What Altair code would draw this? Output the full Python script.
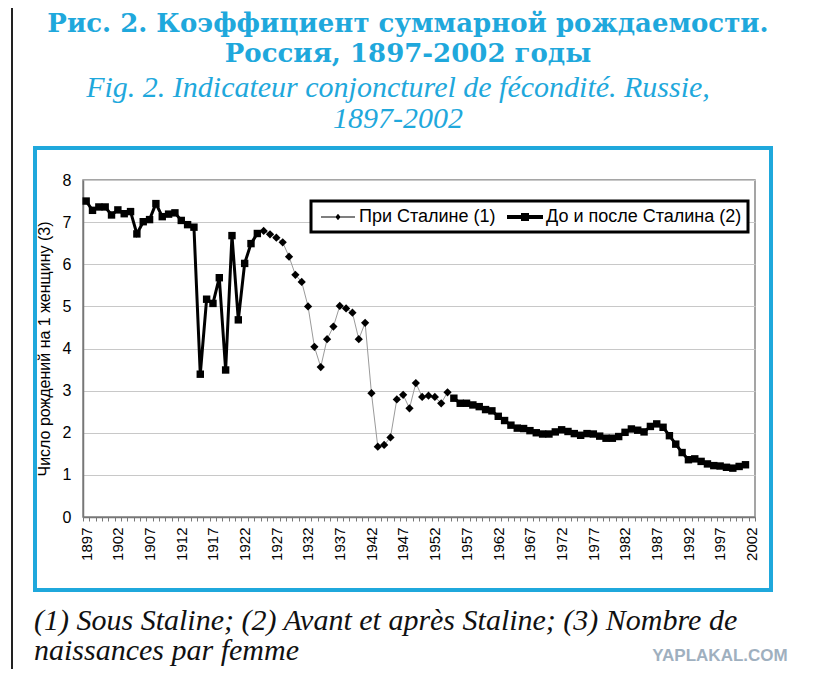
import altair as alt
import pandas as pd

CYAN = "#1fa8dc"

# Total fertility rate, Russia
PRE_START = 1897
PRE_TFR = [
    7.50, 7.28, 7.36, 7.36, 7.17, 7.29, 7.20, 7.25, 6.72, 7.01,
    7.06, 7.44, 7.13, 7.19, 7.22, 7.04, 6.94, 6.88, 3.39, 5.17,
    5.07, 5.68, 3.49, 6.68, 4.68, 6.02, 6.49, 6.73,
]
STALIN_START = 1925
STALIN_TFR = [
    6.79, 6.71, 6.63, 6.52, 6.18, 5.75, 5.58, 5.00, 4.04, 3.56,
    4.22, 4.52, 5.01, 4.95, 4.85, 4.22, 4.61, 2.94, 1.67, 1.71,
    1.89, 2.79, 2.90, 2.58, 3.18, 2.85, 2.88, 2.85, 2.70, 2.96,
]
POST_START = 1955
POST_TFR = [
    2.82, 2.70, 2.70, 2.66, 2.62, 2.55, 2.52, 2.39, 2.29, 2.18,
    2.11, 2.10, 2.05, 2.00, 1.97, 1.97, 2.02, 2.07, 2.03, 1.98,
    1.94, 1.98, 1.97, 1.92, 1.87, 1.87, 1.91, 2.01, 2.09, 2.06,
    2.02, 2.15, 2.21, 2.13, 1.93, 1.73, 1.53, 1.36, 1.38, 1.32,
    1.26, 1.22, 1.21, 1.18, 1.16, 1.20, 1.24,
]

SERIES = ["При Сталине (1)", "До и после Сталина (2)"]
Y_TICKS = [0, 1, 2, 3, 4, 5, 6, 7, 8]
FIRST_YEAR, LAST_YEAR = 1897, 2002

TITLE_RU = ["Рис. 2. Коэффициент суммарной рождаемости.", "Россия, 1897-2002 годы"]
TITLE_FR = ["Fig. 2. Indicateur conjoncturel de fécondité. Russie,", "1897-2002"]
NOTE = ["(1) Sous Staline; (2) Avant et après Staline; (3) Nombre de",
        "naissances par femme"]
Y_TITLE = "Число рождений на 1 женщину (3)"


def series_frame(start, values, segment):
    return pd.DataFrame({
        "year": list(range(start, start + len(values))),
        "tfr": values,
        "segment": segment,
    })


stalin = series_frame(STALIN_START, STALIN_TFR, "stalin")
squares = pd.concat([
    series_frame(PRE_START, PRE_TFR, "pre"),
    series_frame(POST_START, POST_TFR, "post"),
])

x_ticks = [FIRST_YEAR - 0.5 + i for i in range(LAST_YEAR - FIRST_YEAR + 2)]

x = alt.X(
    "year:Q",
    scale=alt.Scale(domain=[FIRST_YEAR - 0.5, LAST_YEAR + 0.5], nice=False, zero=False),
    axis=alt.Axis(
        values=x_ticks,
        labelExpr="(datum.value + 0.5 - 1897) % 5 == 0 && datum.value < 2002.6 ? '' + (datum.value + 0.5) : ''",
        labelAngle=-90, labelOffset=3, labelOverlap=False, labelFlush=False,
        labelFontSize=15, labelPadding=6, tickSize=4, grid=False, title=None,
    ),
)
y = alt.Y(
    "tfr:Q",
    scale=alt.Scale(domain=[0, 8], nice=False),
    axis=alt.Axis(values=Y_TICKS, labelFontSize=16, labelPadding=12, tickSize=0,
                  grid=True, title=Y_TITLE, titleFontSize=16, titleFontWeight="normal",
                  titlePadding=10),
)

stalin_line = alt.Chart(stalin).mark_line(color="#9a9a9a", strokeWidth=1).encode(x=x, y=y)
stalin_pts = alt.Chart(stalin).mark_point(shape="diamond", filled=True, color="black",
                                          size=68, opacity=1).encode(x=x, y=y)
sq_line = alt.Chart(squares).mark_line(color="black", strokeWidth=3).encode(
    x=x, y=y, detail="segment:N")
sq_pts = alt.Chart(squares).mark_point(shape="square", filled=True, color="black",
                                       size=55, opacity=1).encode(x=x, y=y)

# legend symbols: line + marker as custom paths (unit = 10px with symbolSize 400)
LEGEND_PATHS = [
    "M-1.7,-0.05H1.7V0.05H-1.7Z M0,-0.32L0.26,0L0,0.32L-0.26,0Z",
    "M-1.8,-0.2H1.8V0.2H-1.8Z M-0.4,-0.4H0.4V0.4H-0.4Z",
]
legend_df = pd.DataFrame({"series": SERIES})
legend_layer = alt.Chart(legend_df).mark_point(filled=True, color="black", opacity=0).encode(
    x=alt.value(0), y=alt.value(0),
    shape=alt.Shape(
        "series:N",
        scale=alt.Scale(domain=SERIES, range=LEGEND_PATHS),
        legend=alt.Legend(
            title=None, orient="none", legendX=228, legendY=21, direction="horizontal",
            fillColor="white", strokeColor="black", padding=6,
            symbolSize=400, symbolOffset=11, symbolFillColor="black",
            symbolStrokeColor="black", symbolStrokeWidth=0, symbolOpacity=1,
            labelFont="Liberation Sans", labelFontSize=18, labelColor="black",
            labelOffset=11, labelLimit=320, columnPadding=8,
        ),
    ),
)

one = pd.DataFrame({"k": [0]})
frame_box = alt.Chart(one).mark_rect(filled=False, stroke=CYAN, strokeWidth=4).encode(
    x=alt.value(-48), x2=alt.value(688), y=alt.value(-32), y2=alt.value(410))
page_rule = alt.Chart(one).mark_rule(color="#222", strokeWidth=2).encode(
    x=alt.value(-71), y=alt.value(-180), y2=alt.value(505))
title_ru = alt.Chart(one).mark_text(
    font="DejaVu Serif", fontWeight="bold", fontSize=26, color=CYAN,
    align="center", baseline="alphabetic", lineHeight=30,
).encode(x=alt.value(325), y=alt.value(-148), text=alt.value(TITLE_RU))
title_fr = alt.Chart(one).mark_text(
    font="Liberation Serif", fontStyle="italic", fontSize=30, color=CYAN,
    align="center", baseline="alphabetic", lineHeight=31,
).encode(x=alt.value(315), y=alt.value(-83), text=alt.value(TITLE_FR))
note = alt.Chart(one).mark_text(
    font="Liberation Serif", fontStyle="italic", fontSize=30, color="#111",
    align="left", baseline="alphabetic", lineHeight=30,
).encode(x=alt.value(-49), y=alt.value(450), text=alt.value(NOTE))
watermark = alt.Chart(one).mark_text(
    font="Liberation Sans", fontWeight="bold", fontSize=17, color="#9fb0bf",
    align="center", baseline="middle",
).encode(x=alt.value(637), y=alt.value(476), text=alt.value("YAPLAKAL.COM"))

chart = (
    alt.layer(frame_box, page_rule, title_ru, title_fr, note, watermark,
              stalin_line, stalin_pts, sq_line, sq_pts, legend_layer)
    .properties(
        width=672, height=337, autosize="none",
        padding={"left": 75, "top": 172, "right": 51, "bottom": 152},
        background="white",
    )
    .configure_view(stroke="#888", strokeWidth=1.5)
    .configure_axis(labelFont="Liberation Sans", titleFont="Liberation Sans",
                    labelColor="black", titleColor="black", domainColor="#777",
                    domainWidth=1.5, tickColor="#777", gridColor="#c8c8c8")
    .configure_legend(strokeWidth=3)
)

chart.save("out.html", embed_options={"renderer": "svg", "actions": False})
